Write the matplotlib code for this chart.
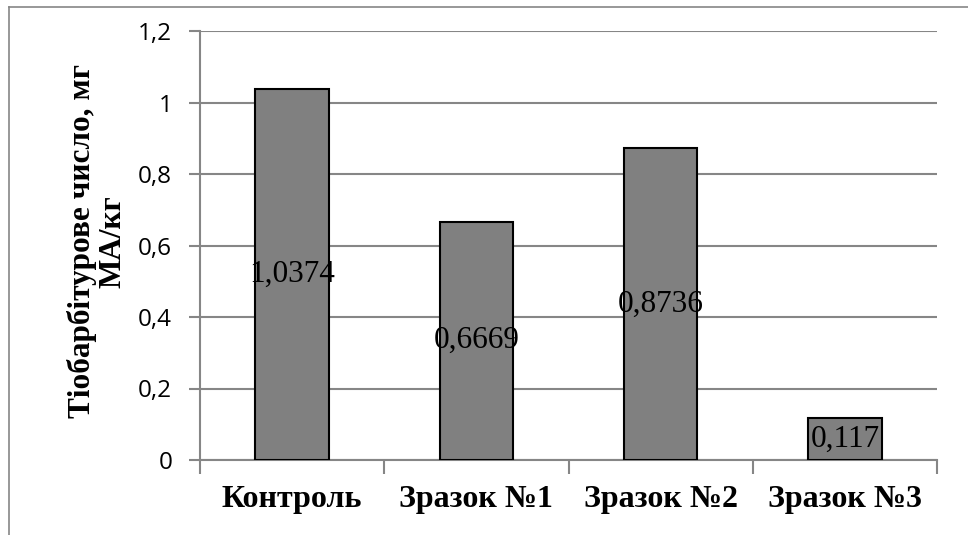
import matplotlib.pyplot as plt
from matplotlib.lines import Line2D
from matplotlib.ticker import FuncFormatter, FixedLocator

# data
categories = ["Контроль", "Зразок №1", "Зразок №2", "Зразок №3"]
values = [1.0374, 0.6669, 0.8736, 0.117]
labels = ["1,0374", "0,6669", "0,8736", "0,117"]
yticks = [0, 0.2, 0.4, 0.6, 0.8, 1.0, 1.2]

serif = "Liberation Serif"
grey = "#868686"

fig = plt.figure(figsize=(9.68, 5.35), dpi=100)
ax = fig.add_axes([200/968, 1-460/535, 737/968, 429/535])

x = range(len(categories))
bars = ax.bar(x, values, width=0.4, color="#808080", edgecolor="black", linewidth=1.5, zorder=3)

for b, txt in zip(bars, labels):
    ax.text(b.get_x() + b.get_width()/2, b.get_height()/2, txt,
            ha="center", va="center", fontsize=22.5, family=serif, zorder=4)

ax.set_xlim(-0.5, 3.5)
ax.set_ylim(0, 1.2)
ax.set_yticks(yticks)
ax.yaxis.set_major_formatter(FuncFormatter(lambda v, p: ("%g" % v).replace(".", ",")))
ax.yaxis.grid(True, color=grey, linewidth=1.5, zorder=0)

ax.set_xticks(list(x))
ax.set_xticklabels(categories, fontsize=23, fontweight="bold", family=serif)
ax.xaxis.set_minor_locator(FixedLocator([-0.5, 0.5, 1.5, 2.5, 3.5]))
ax.tick_params(axis="x", which="major", length=0, pad=18)
ax.tick_params(axis="x", which="minor", length=10, width=1.5, color=grey, direction="out")
ax.tick_params(axis="y", length=8, width=1.5, color=grey, pad=12, labelsize=17.5)
for t in ax.get_yticklabels():
    t.set_family("Open Sans")

for s in ["top", "right"]:
    ax.spines[s].set_visible(False)
for s in ["left", "bottom"]:
    ax.spines[s].set_color(grey)
    ax.spines[s].set_linewidth(1.5)

ax.set_ylabel("Тіобарбітурове число, мг\nМА/кг", fontsize=22.5, fontweight="bold",
              family=serif, linespacing=1.05)
ax.yaxis.set_label_coords(-0.099, 0.51)

# outer frame (only top and left edge visible)
fig.add_artist(Line2D([9/968, 9/968], [0, 1-7/535], color=grey, linewidth=1.2, transform=fig.transFigure))
fig.add_artist(Line2D([9/968, 1], [1-7/535, 1-7/535], color=grey, linewidth=1.2, transform=fig.transFigure))

fig.savefig("out.png", dpi=100)
